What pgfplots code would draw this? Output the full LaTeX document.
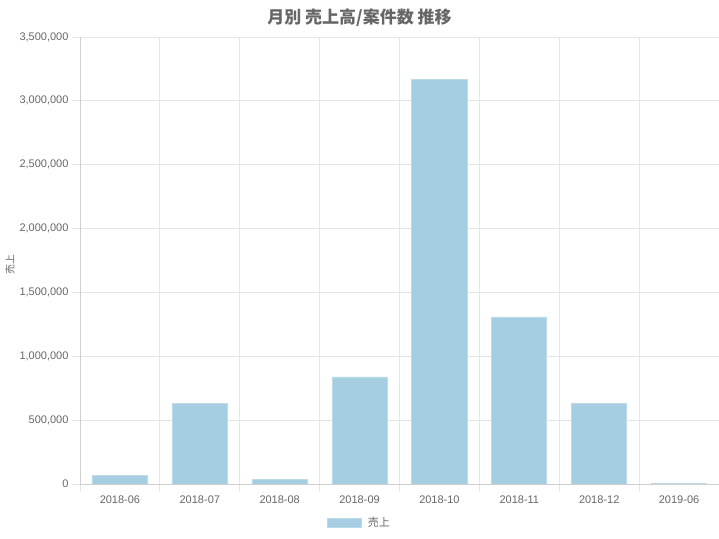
\documentclass[border=0pt]{standalone}
\usepackage{fontspec}
\setmainfont{Liberation Sans}
\newfontfamily\cjk{Noto Sans CJK JP}
\usepackage{pgfplots}
\pgfplotsset{compat=1.18}
\definecolor{barblue}{HTML}{A6CEE3}
\definecolor{baredge}{HTML}{BBDAEA}
\definecolor{gridgray}{HTML}{E6E6E6}
\definecolor{axisgray}{HTML}{CFCFCF}
\definecolor{txtgray}{HTML}{666666}
\begin{document}
\begin{tikzpicture}
\useasboundingbox (-80bp,-55bp) rectangle (639bp,484bp);
\begin{axis}[
  at={(0,0)}, anchor=south west,
  scale only axis,
  width=639bp, height=447bp,
  xmin=-0.5, xmax=7.5,
  ymin=0, ymax=3500000,
  xtick={0,1,2,3,4,5,6,7},
  xticklabels={2018-06,2018-07,2018-08,2018-09,2018-10,2018-11,2018-12,2019-06},
  minor xtick={-0.5,0.5,1.5,2.5,3.5,4.5,5.5,6.5,7.5},
  ytick={0,500000,1000000,1500000,2000000,2500000,3000000,3500000},
  scaled y ticks=false,
  yticklabel style={/pgf/number format/.cd, fixed, precision=0, 1000 sep={,}},
  /pgf/number format/assume math mode=true,
  tick label style={font=\fontsize{11bp}{13bp}\selectfont, text=txtgray},
  xticklabel style={yshift=0bp},
  xtick pos=bottom, ytick pos=left,
  xmajorgrids=false, xminorgrids=true, ymajorgrids=true,
  grid style={draw=gridgray, line width=0.8bp},
  minor grid style={draw=gridgray, line width=0.8bp},
  major tick length=8bp, minor tick length=8bp,
  tick align=outside,
  major x tick style={draw=none},
  minor x tick style={draw=gridgray, line width=0.8bp},
  y tick style={draw=gridgray, line width=0.8bp},
  axis line style={draw=gridgray, line width=0.8bp},
  ylabel={\cjk 売上},
  ylabel style={at={(axis description cs:-0.1095,0.49)}, anchor=center, font=\fontsize{10bp}{12bp}\selectfont, text=txtgray},
  title={\cjk\bfseries 月別 売上高/案件数 推移},
  title style={at={(axis description cs:0.4374,1)}, anchor=center, yshift=13bp, font=\fontsize{17bp}{20bp}\selectfont, text=txtgray},
  legend style={at={(axis description cs:0.4374,0)}, anchor=center, yshift=-39bp, draw=none, fill=none,
    font=\fontsize{11bp}{13bp}\selectfont, text=txtgray, inner sep=0pt,
    /tikz/every even column/.append style={column sep=0pt}},
  legend image code/.code={\draw[fill=barblue, draw=baredge, line width=0.8bp] (0bp,-4.5bp) rectangle (34bp,4.5bp);},
  clip=false,
]
\addplot[ybar, bar width=0.69, fill=barblue, draw=baredge, line width=0.8bp] coordinates {
  (0,68000) (1,632000) (2,34000) (3,838000) (4,3170000) (5,1308000) (6,632000) (7,4000)
};
\addlegendentry{\hspace{4bp}\cjk 売上}
\draw[axisgray, line width=0.8bp] (rel axis cs:0,0) -- (rel axis cs:1,0);
\draw[axisgray, line width=0.8bp] (rel axis cs:0,0) -- (rel axis cs:0,1);
\end{axis}
\end{tikzpicture}
\end{document}
